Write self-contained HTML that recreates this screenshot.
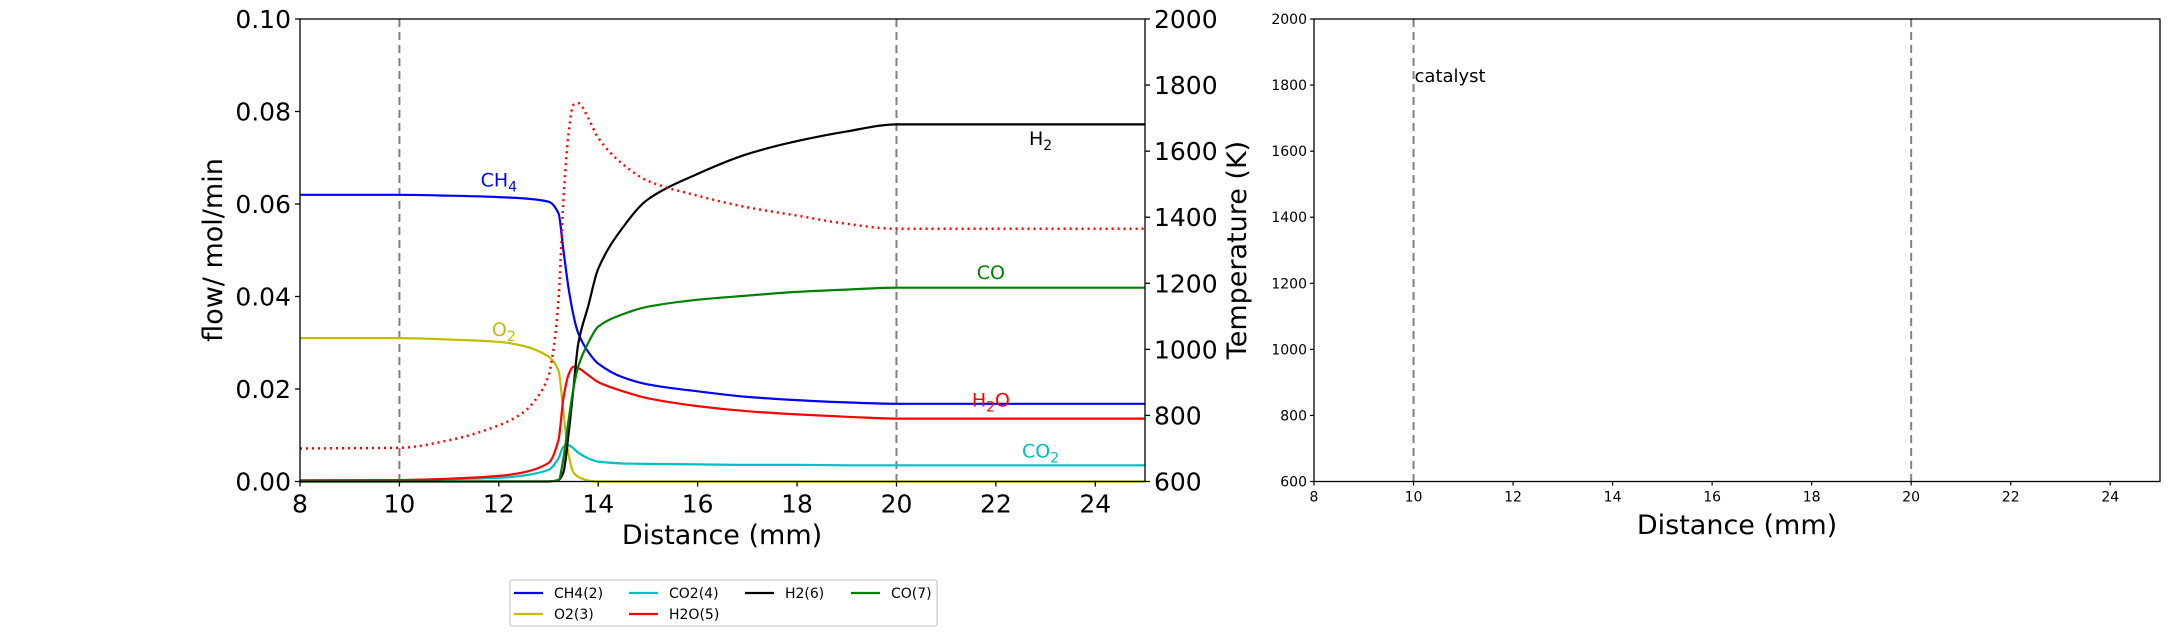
<!DOCTYPE html>
<html><head><meta charset="utf-8"><style>
html,body{margin:0;padding:0;background:#fff;}
svg{display:block;font-family:"DejaVu Sans","Liberation Sans",sans-serif;}
</style></head><body>
<svg id="chart" width="2173" height="636" viewBox="0 0 2173 636" xmlns="http://www.w3.org/2000/svg">
<g id="left"></g>
<g id="right"></g>
<g id="legend"></g>
</svg>
<script>
const xs = [8,10,11,12,12.5,13,13.2,13.3,13.4,13.5,13.6,13.8,14,14.5,15,16,17,18,19,20,25];
const ch4 = [0.062,0.062,0.0618,0.0615,0.0612,0.0605,0.058,0.050,0.042,0.036,0.032,0.028,0.0255,0.0225,0.021,0.0195,0.0183,0.0176,0.0171,0.0168,0.0168];
const o2 = [0.031,0.031,0.0307,0.0302,0.0293,0.027,0.024,0.015,0.006,0.002,0.001,0.0002,0,0,0,0,0,0,0,0,0];
const co2 = [0.0003,0.0003,0.0005,0.0008,0.0013,0.0025,0.005,0.0075,0.0078,0.0072,0.0062,0.005,0.0043,0.0039,0.0038,0.0037,0.0036,0.0036,0.0035,0.0035,0.0035];
const h2o = [0.0002,0.0003,0.0006,0.0012,0.002,0.004,0.009,0.018,0.023,0.0248,0.0245,0.023,0.0215,0.0195,0.018,0.0163,0.0152,0.0145,0.014,0.0136,0.0136];
const h2 = [0,0,0,0,0,0,0.0003,0.002,0.01,0.02,0.03,0.038,0.046,0.055,0.061,0.0665,0.0708,0.0736,0.0757,0.0772,0.0772];
const co = [0,0,0,0,0,0,0.0003,0.005,0.013,0.02,0.025,0.03,0.0335,0.0362,0.0378,0.0393,0.0402,0.041,0.0415,0.0419,0.0419];
const tx = [8,10,11,12,12.5,12.8,13,13.1,13.2,13.3,13.4,13.5,13.6,13.8,14,14.5,15,16,17,18,19,20,25];
const temp = [700,702,725,770,810,860,920,1000,1150,1450,1650,1740,1745,1700,1640,1560,1510,1465,1430,1405,1380,1365,1365];
const xTicks = [8,10,12,14,16,18,20,22,24];
const yTicks = [0,0.02,0.04,0.06,0.08,0.10];
const yTickLabels = ["0.00","0.02","0.04","0.06","0.08","0.10"];
const tTicks = [600,800,1000,1200,1400,1600,1800,2000];
const NS="http://www.w3.org/2000/svg";
function mk(parent,tag,attrs,text){const e=document.createElementNS(NS,tag);for(const k in attrs)e.setAttribute(k,attrs[k]);if(text!==undefined)e.textContent=text;parent.appendChild(e);return e;}
const L={x0:300,x1:1145,y0:481.5,y1:19};
const R={x0:1314,x1:2160,y0:481.5,y1:19};
function sx(p,v){return p.x0+(v-8)/(25-8)*(p.x1-p.x0);}
function sy(v){return L.y0-(v/0.1)*(L.y0-L.y1);}
function st(v){return L.y0-(v-600)/1400*(L.y0-L.y1);}
// monotone cubic path through screen points
function smooth(px,py){const n=px.length,d=[],m=[];
for(let i=0;i<n-1;i++)d.push((py[i+1]-py[i])/(px[i+1]-px[i]));
m.push(d[0]);for(let i=1;i<n-1;i++){m.push(d[i-1]*d[i]<=0?0:(2/(1/d[i-1]+1/d[i])));}m.push(d[n-2]);
let s='M'+px[0].toFixed(1)+','+py[0].toFixed(1);
for(let i=0;i<n-1;i++){const h=px[i+1]-px[i];
s+='C'+(px[i]+h/3).toFixed(1)+','+(py[i]+m[i]*h/3).toFixed(1)+' '+(px[i+1]-h/3).toFixed(1)+','+(py[i+1]-m[i+1]*h/3).toFixed(1)+' '+px[i+1].toFixed(1)+','+py[i+1].toFixed(1);}
return s;}
const left=document.getElementById('left'),right=document.getElementById('right'),leg=document.getElementById('legend');
[10,20].forEach(v=>{const l=mk(left,'line',{x1:sx(L,v),x2:sx(L,v),y1:L.y1,y2:L.y0,stroke:'#808080','stroke-width':2,'stroke-dasharray':'8,5'});

});
const series=[[ch4,'#0000ff','ch4-line'],[o2,'#bfbf00','o2-line'],[co2,'#00bfbf','co2-line'],[h2o,'#ff0000','h2o-line'],[h2,'#000000','h2-line'],[co,'#008000','co-line']];
series.forEach(s=>{const d=smooth(xs.map(x=>sx(L,x)),s[0].map(sy));
const p=mk(left,'path',{d:d,fill:'none',stroke:s[1],'stroke-width':2.2,'stroke-linejoin':'round'});

});
{const d=smooth(tx.map(x=>sx(L,x)),temp.map(st));
const p=mk(left,'path',{d:d,fill:'none',stroke:'#ff0000','stroke-width':2.5,'stroke-dasharray':'2,4'});

}
mk(left,'rect',{x:L.x0,y:L.y1,width:L.x1-L.x0,height:L.y0-L.y1,fill:'none',stroke:'#000','stroke-width':1.3});
xTicks.forEach(v=>{mk(left,'line',{x1:sx(L,v),x2:sx(L,v),y1:L.y0,y2:L.y0+5,stroke:'#000','stroke-width':1.3});
const t=mk(left,'text',{x:sx(L,v),y:L.y0+31,'font-size':25,'text-anchor':'middle'},String(v));

});
yTicks.forEach((v,i)=>{mk(left,'line',{x1:L.x0-5,x2:L.x0,y1:sy(v),y2:sy(v),stroke:'#000','stroke-width':1.3});
const t=mk(left,'text',{x:L.x0-9,y:sy(v)+9,'font-size':25,'text-anchor':'end'},yTickLabels[i]);

});
tTicks.forEach(v=>{mk(left,'line',{x1:L.x1,x2:L.x1+5,y1:st(v),y2:st(v),stroke:'#000','stroke-width':1.3});
const t=mk(left,'text',{x:L.x1+9,y:st(v)+9,'font-size':25},String(v));

});
const labs=[[12,0.0638,'CH','4','','#0000ff'],[12.1,0.0315,'O','2','','#bfbf00'],[22.9,0.0728,'H','2','','#000'],[21.9,0.0438,'CO','','','#008000'],[21.9,0.0162,'H','2','O','#ff0000'],[22.9,0.0052,'CO','2','','#00bfbf']];
labs.forEach(a=>{const t=mk(left,'text',{x:sx(L,a[0]),y:sy(a[1]),'font-size':19,'text-anchor':'middle',fill:a[5]});


mk(t,'tspan',{},a[2]);if(a[3])mk(t,'tspan',{dy:5,'font-size':14},a[3]);if(a[4])mk(t,'tspan',{dy:-5},a[4]);});
{const t=mk(left,'text',{x:722,y:544,'font-size':27,'text-anchor':'middle'},'Distance (mm)');


const a=mk(left,'text',{transform:'translate(222,250) rotate(-90)','font-size':27,'text-anchor':'middle'},'flow/ mol/min');


const b=mk(left,'text',{transform:'translate(1246,250) rotate(-90)','font-size':27,'text-anchor':'middle'},'Temperature (K)');

}
[10,20].forEach(v=>{const l=mk(right,'line',{x1:sx(R,v),x2:sx(R,v),y1:R.y1,y2:R.y0,stroke:'#808080','stroke-width':2,'stroke-dasharray':'8,5'});

});
mk(right,'rect',{x:R.x0,y:R.y1,width:R.x1-R.x0,height:R.y0-R.y1,fill:'none',stroke:'#000','stroke-width':1.3});
xTicks.forEach(v=>{mk(right,'line',{x1:sx(R,v),x2:sx(R,v),y1:R.y0,y2:R.y0+4,stroke:'#000','stroke-width':1.2});
const t=mk(right,'text',{x:sx(R,v),y:R.y0+20,'font-size':14,'text-anchor':'middle'},String(v));

});
tTicks.forEach(v=>{mk(right,'line',{x1:R.x0-4,x2:R.x0,y1:st(v),y2:st(v),stroke:'#000','stroke-width':1.2});
const t=mk(right,'text',{x:R.x0-7,y:st(v)+5,'font-size':14,'text-anchor':'end'},String(v));

});
{const c=mk(right,'text',{x:sx(R,10)+1,y:82,'font-size':18},'catalyst');


const t=mk(right,'text',{x:1737,y:534,'font-size':27,'text-anchor':'middle'},'Distance (mm)');

}
mk(leg,'rect',{x:510,y:580,width:427,height:46,fill:'#fff',stroke:'#ccc','stroke-width':1.3,rx:2});
const legNames=['CH4(2)','O2(3)','CO2(4)','H2O(5)','H2(6)','CO(7)'];
const legCols=['#0000ff','#bfbf00','#00bfbf','#ff0000','#000000','#008000'];
const legColIdx=[0,0,1,1,2,3];
const legRowIdx=[0,1,0,1,0,0];
const colX=[514,629,745,851];
legNames.forEach((n,i)=>{const cx=colX[legColIdx[i]],cy=legRowIdx[i]?614:593;
const g=mk(leg,'g',{});


mk(g,'line',{x1:cx,x2:cx+29,y1:cy,y2:cy,stroke:legCols[i],'stroke-width':2.2});
mk(g,'text',{x:cx+40,y:cy+5,'font-size':14},n);});
</script>
</body></html>
